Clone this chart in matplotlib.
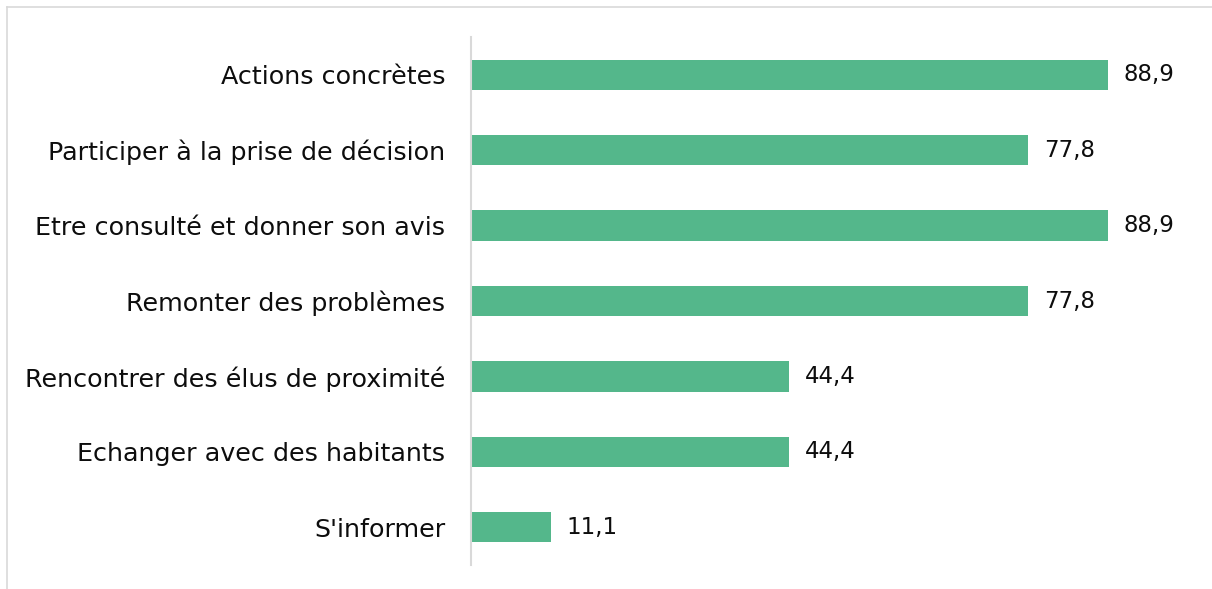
import matplotlib
matplotlib.use('Agg')
import matplotlib.pyplot as plt
from matplotlib.lines import Line2D

# ── DATA ───────────────────────────────────────────────────
categories = ['Actions concrètes', 'Participer à la prise de décision',
              'Etre consulté et donner son avis', 'Remonter des problèmes',
              'Rencontrer des élus de proximité', 'Echanger avec des habitants',
              "S'informer"]
values = [88.9, 77.8, 88.9, 77.8, 44.4, 44.4, 11.1]
value_labels = ['88,9', '77,8', '88,9', '77,8', '44,4', '44,4', '11,1']

bar_color = '#54B78B'
grid_gray = '#D9D9D9'
text_color = '#0d0d0d'

plt.rcParams['font.family'] = ['DejaVu Sans']

fig = plt.figure(figsize=(12.12, 5.89), dpi=100)
ax = fig.add_axes([471 / 1212, 24 / 589, 716.5 / 1212, 528 / 589])

ypos = list(range(len(categories)))
ax.barh(ypos, values, height=0.4, color=bar_color)

for y, v, lab in zip(ypos, values, value_labels):
    ax.text(v + 2.2, y, lab, va='center', ha='left', fontsize=16.5, color=text_color)

ax.set_yticks(ypos)
ax.set_yticklabels(categories, fontsize=18.3, color=text_color)
ax.set_ylim(len(categories) - 0.5, -0.5)
ax.set_xlim(0, 100)
ax.set_xticks([])
ax.tick_params(axis='y', length=0, pad=18.5)

for s in ['top', 'right', 'bottom']:
    ax.spines[s].set_visible(False)
ax.spines['left'].set_color(grid_gray)
ax.spines['left'].set_linewidth(1.5)

# outer chart border (top and left visible)
fig.add_artist(Line2D([7 / 1212, 1], [1 - 7 / 589, 1 - 7 / 589], color=grid_gray, lw=1.2))
fig.add_artist(Line2D([7 / 1212, 7 / 1212], [0, 1 - 7 / 589], color=grid_gray, lw=1.2))

fig.savefig('out.png', dpi=100)
